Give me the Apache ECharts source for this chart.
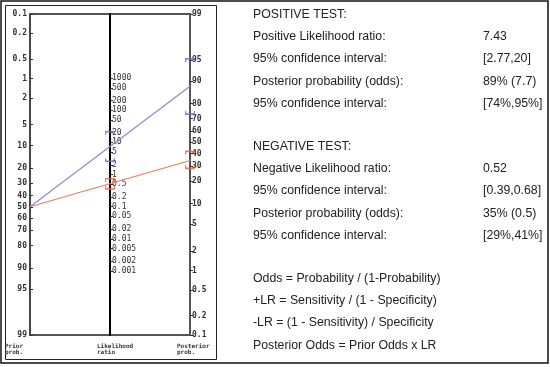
<!DOCTYPE html>
<html><head><meta charset="utf-8">
<script src="https://cdn.jsdelivr.net/npm/echarts@6/dist/echarts.min.js"></script>
<style>html,body{margin:0;padding:0;background:#fff}#c{width:550px;height:367px}</style>
</head><body><div id="c"></div>
<script>
// ---- data ----
const priorTicks = [0.1,0.2,0.5,1,2,5,10,20,30,40,50,60,70,80,90,95,99];
const postTicks = [99,95,90,80,70,60,50,40,30,20,10,5,2,1,0.5,0.2,0.1];
const lrTicks = [1000,500,200,100,50,20,10,5,2,1,0.5,0.2,0.1,0.05,0.02,0.01,0.005,0.002,0.001];
const priorProb = 50;
const lrPositive = 7.43;
const lrPositiveCI = [2.77, 20];
const postPositiveCI = [74, 95];
const lrNegative = 0.52;
const lrNegativeCI = [0.39, 0.68];
const postNegativeCI = [29, 41];
const axisTitles = ['Prior\nprob.', 'Likelihood\nratio', 'Posterior\nprob.'];
const positiveRows = [['POSITIVE TEST:', ''], ['Positive Likelihood ratio:', '7.43'], ['95% confidence interval:', '[2.77,20]'], ['Posterior probability (odds):', '89% (7.7)'], ['95% confidence interval:', '[74%,95%]']];
const negativeRows = [['NEGATIVE TEST:', ''], ['Negative Likelihood ratio:', '0.52'], ['95% confidence interval:', '[0.39,0.68]'], ['Posterior probability (odds):', '35% (0.5)'], ['95% confidence interval:', '[29%,41%]']];
const formulaRows = ['Odds = Probability / (1-Probability)', '+LR = Sensitivity / (1 - Specificity)', '-LR = (1 - Sensitivity) / Specificity', 'Posterior Odds = Prior Odds x LR'];

// ---- scales ----
const logit = p => Math.log(p / (100 - p));
const LO = logit(0.1), HI = logit(99), R = HI - LO;
const nearest = (arr, f) => v => { let b = arr[0], d = Infinity; arr.forEach(t => { const e = Math.abs(f(t) - v); if (e < d) { d = e; b = t; } }); return String(b); };

const blue = '#8a8ad8', orange = '#f07a5a';
const blueMark = '#6a6ac8', orangeMark = '#e8603e';
const capPath = 'path://M0,0L10,0L10,3L8.8,3L8.8,1.3L1.2,1.3L1.2,3L0,3Z';
const labelFont = { fontFamily: 'DejaVu Sans Mono', fontSize: 8, fontWeight: 'bold', color: '#333' };

function testSeries(lr, lrCI, postCI, color, markColor) {
  const L = logit(priorProb), P = L + Math.log(lr);
  return [
    { type: 'line', xAxisIndex: 0, yAxisIndex: 1, symbol: 'none', silent: true, z: 3,
      lineStyle: { color, width: 1.2 }, data: [[0, HI + LO - L], [2, P]] },
    { type: 'scatter', xAxisIndex: 0, yAxisIndex: 2, symbol: capPath, symbolSize: [10, 4], z: 4,
      itemStyle: { color: markColor }, data: [{ value: [1, Math.log(lrCI[1])] }, { value: [1, Math.log(lrCI[0])], symbolRotate: 180 }] },
    { type: 'scatter', xAxisIndex: 0, yAxisIndex: 1, symbol: capPath, symbolSize: [10, 4], z: 4,
      itemStyle: { color: markColor }, data: [{ value: [2, logit(postCI[1])] }, { value: [2, logit(postCI[0])], symbolRotate: 180 }] }
  ];
}

const graphics = [
  { type: 'rect', shape: { x: 1, y: 1, width: 547, height: 362 }, style: { fill: 'none', stroke: '#111', lineWidth: 1.5 }, silent: true },
  { type: 'rect', shape: { x: 5.5, y: 5.5, width: 211, height: 354 }, style: { fill: 'none', stroke: '#222', lineWidth: 1 }, silent: true },
];
[[5, 343], [97, 343], [177, 343]].forEach((p, i) => graphics.push({ type: 'text', x: p[0], y: p[1],
  style: { text: axisTitles[i], font: 'bold 6px "DejaVu Sans Mono"', lineHeight: 6, fill: '#333' } }));
const txtFont = '12.3px "Liberation Sans", Arial, sans-serif';
function addRows(rows, y0) {
  rows.forEach((r, i) => {
    const y = y0 + i * 22.3;
    graphics.push({ type: 'text', x: 253, y, style: { text: r[0], font: txtFont, fill: '#222', verticalAlign: 'middle' } });
    if (r[1]) graphics.push({ type: 'text', x: 483, y, style: { text: r[1], font: txtFont, fill: '#222', verticalAlign: 'middle' } });
  });
}
addRows(positiveRows, 14.5);
addRows(negativeRows, 146.5);
addRows(formulaRows.map(t => [t, '']), 278.5);

const chart = echarts.init(document.getElementById('c'), null, { renderer: 'canvas' });
chart.setOption({
  animation: false,
  grid: { left: 30, right: 360, top: 14, bottom: 32, show: true, borderColor: '#555', borderWidth: 2 },
  xAxis: { type: 'value', min: 0, max: 2, show: false },
  yAxis: [
    { type: 'value', position: 'left', inverse: true, min: LO, max: HI,
      axisLine: { show: true, lineStyle: { color: '#444', width: 1.5 } },
      axisTick: { show: true, inside: true, length: 3, lineStyle: { color: '#333' }, customValues: priorTicks.map(logit) },
      axisLabel: Object.assign({ margin: 3, customValues: priorTicks.map(logit), formatter: nearest(priorTicks, logit), showMinLabel: true, showMaxLabel: true }, labelFont),
      splitLine: { show: false } },
    { type: 'value', position: 'right', min: LO, max: HI,
      axisLine: { show: true, lineStyle: { color: '#555', width: 2 } },
      axisTick: { show: true, length: 3, lineStyle: { color: '#333' }, customValues: postTicks.map(logit) },
      axisLabel: Object.assign({ margin: 2, customValues: postTicks.map(logit), formatter: nearest(postTicks, logit), showMinLabel: true, showMaxLabel: true }, labelFont),
      splitLine: { show: false } },
    { type: 'value', position: 'right', offset: -80, min: -R, max: R,
      axisLine: { show: true, lineStyle: { color: '#000', width: 2 } },
      axisTick: { show: true, length: 3, lineStyle: { color: '#333' }, customValues: lrTicks.map(Math.log) },
      axisLabel: Object.assign({ margin: 2, customValues: lrTicks.map(Math.log), formatter: nearest(lrTicks, Math.log) }, labelFont, { fontWeight: 'normal' }),
      splitLine: { show: false } }
  ],
  series: [...testSeries(lrPositive, lrPositiveCI, postPositiveCI, blue, blueMark), ...testSeries(lrNegative, lrNegativeCI, postNegativeCI, orange, orangeMark)],
  graphic: graphics
});
</script></body></html>
